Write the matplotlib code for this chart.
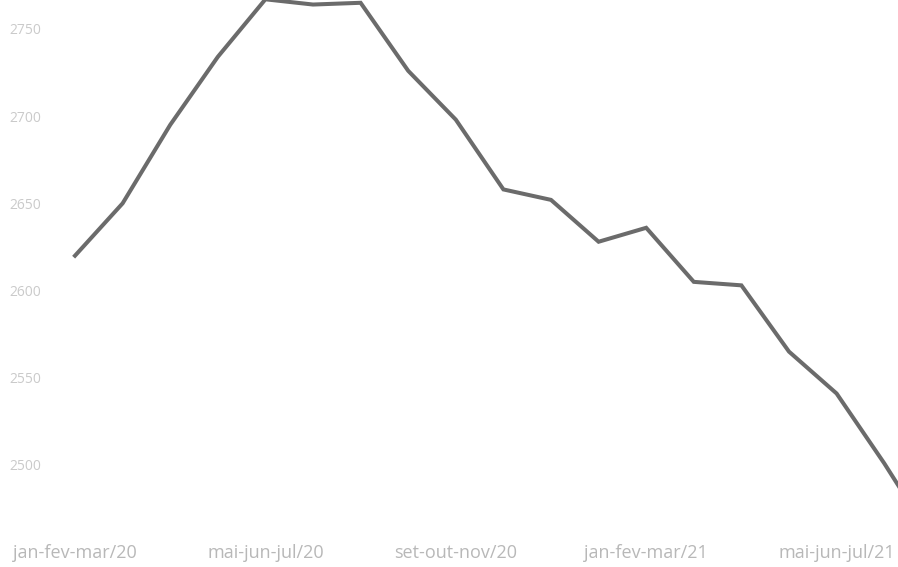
import matplotlib
matplotlib.use("Agg")
import matplotlib.pyplot as plt

# trimestres móveis
periodos = [
    "jan-fev-mar/20", "fev-mar-abr/20", "mar-abr-mai/20", "abr-mai-jun/20",
    "mai-jun-jul/20", "jun-jul-ago/20", "jul-ago-set/20", "ago-set-out/20",
    "set-out-nov/20", "out-nov-dez/20", "nov-dez-jan/21", "dez-jan-fev/21",
    "jan-fev-mar/21", "fev-mar-abr/21", "mar-abr-mai/21", "abr-mai-jun/21",
    "mai-jun-jul/21", "jun-jul-ago/21", "jul-ago-set/21",
]
valores = [
    2620, 2650, 2695, 2734, 2767, 2764, 2765, 2726, 2698, 2658,
    2652, 2628, 2636, 2605, 2603, 2565, 2541, 2501, 2458,
]
# rótulos exibidos no eixo x
rotulos_x = ["jan-fev-mar/20", "mai-jun-jul/20", "set-out-nov/20",
             "jan-fev-mar/21", "mai-jun-jul/21"]
ticks_y = [2500, 2550, 2600, 2650, 2700, 2750]

plt.rcParams['font.family'] = ['Open Sans', 'DejaVu Sans']

fig = plt.figure(figsize=(8.98, 5.67), dpi=100)
ax = fig.add_axes([55 / 898, 42 / 567, 843 / 898, 525 / 567])

x = list(range(len(periodos)))
ax.plot(x, valores, color="#6b6b6b", linewidth=2.9, solid_joinstyle="miter")

# 47.6 px por ponto, primeiro ponto em 75 px
ax.set_xlim((55 - 75) / 47.6, (898 - 75) / 47.6)
ax.set_ylim(2465.6, 2766.6)

ax.set_xticks([periodos.index(r) for r in rotulos_x])
ax.set_xticklabels(rotulos_x, fontsize=13, color="#b8b8b8")
ax.set_yticks(ticks_y)
ax.set_yticklabels([str(t) for t in ticks_y], fontsize=10, color="#cacaca")
ax.tick_params(axis="x", length=0, pad=14)
ax.tick_params(axis="y", length=0, pad=10)

for s in ax.spines.values():
    s.set_visible(False)

fig.savefig("out.png", dpi=100)
